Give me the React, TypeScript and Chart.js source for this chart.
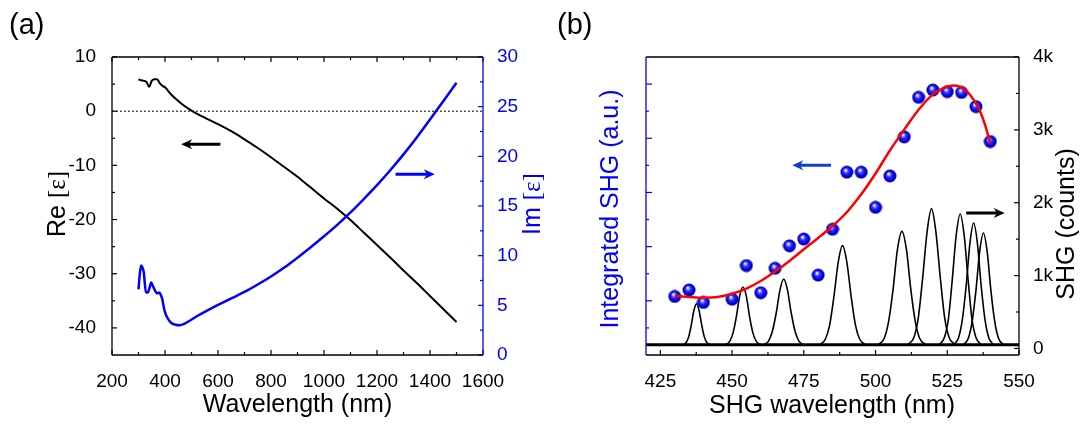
import React, { useEffect, useRef } from 'react';
import { Chart, registerables } from 'chart.js';

Chart.register(...registerables);

const FONT = '"Liberation Sans", Arial, Helvetica, sans-serif';
const SERIF = '"Liberation Serif", "Times New Roman", serif';

// ---------- Panel (a) data ----------
const RE_WL = [300, 310, 320, 330, 340, 350, 360, 370, 380, 390, 400, 425, 450, 475, 500, 525, 550, 600, 650, 700, 750, 800, 850, 900, 950, 1000, 1050, 1100, 1150, 1200, 1250, 1300, 1350, 1400, 1450, 1500];
const RE_EPS = [5.9, 5.7, 5.6, 5.4, 4.5, 5.6, 5.9, 5.9, 5.2, 4.7, 4.4, 3.0, 1.9, 0.9, 0.1, -0.6, -1.2, -2.4, -3.7, -5.2, -6.8, -8.5, -10.3, -12.1, -14.1, -16.1, -18.0, -20.1, -22.4, -24.7, -27.0, -29.4, -31.7, -34.1, -36.5, -38.9];

const IM_WL = [300, 305, 310, 315, 320, 328, 335, 340, 348, 355, 362, 370, 378, 385, 390, 397, 405, 415, 425, 440, 455, 470, 490, 520, 550, 600, 650, 700, 750, 800, 850, 900, 950, 1000, 1050, 1100, 1150, 1200, 1250, 1300, 1350, 1400, 1450, 1500];
const IM_EPS = [6.6, 8.2, 9.0, 8.8, 8.3, 6.3, 6.3, 6.6, 7.3, 6.9, 6.5, 6.2, 6.3, 6.0, 5.6, 4.6, 3.95, 3.5, 3.2, 3.05, 3.0, 3.1, 3.4, 3.9, 4.35, 5.05, 5.7, 6.35, 7.1, 7.9, 8.8, 9.8, 10.85, 11.95, 13.1, 14.35, 15.7, 17.1, 18.6, 20.2, 21.9, 23.7, 25.55, 27.4];

const ZERO_WL = [200, 1600];
const ZERO_EPS = [0, 0];

const A_X_TICKS = [200, 400, 600, 800, 1000, 1200, 1400, 1600];
const A_X_MINOR = [300, 500, 700, 900, 1100, 1300, 1500];
const A_Y_TICKS = [-40, -30, -20, -10, 0, 10];
const A_Y_MINOR = [-35, -25, -15, -5, 5];
const A_Y2_TICKS = [0, 5, 10, 15, 20, 25, 30];
const A_Y2_MINOR = [2.5, 7.5, 12.5, 17.5, 22.5, 27.5];

// arrows: [xFrom, xTo, y]
const A_ARROW_RE = [609, 461, -6.1];
const A_ARROW_IM = [1270, 1418, 18.2];

// ---------- Panel (b) data ----------
const SHG_WL = [430, 435, 440, 450, 455, 460, 465, 470, 475, 480, 485, 490, 495, 500, 505, 510, 515, 520, 525, 530, 535, 540];
const SHG_INT = [2.16, 2.40, 1.94, 2.06, 3.30, 2.30, 3.20, 4.03, 4.28, 2.95, 4.64, 6.75, 6.75, 5.45, 6.61, 8.05, 9.51, 9.78, 9.72, 9.69, 9.17, 7.88];

const FIT_WL = [430, 435, 440, 445, 450, 455, 460, 465, 470, 475, 480, 485, 490, 495, 500, 505, 510, 515, 520, 525, 527.5, 530, 533, 536, 538, 540];
const FIT_INT = [2.18, 2.14, 2.11, 2.14, 2.26, 2.45, 2.73, 3.08, 3.47, 3.90, 4.32, 4.76, 5.27, 5.93, 6.70, 7.55, 8.32, 9.05, 9.62, 9.90, 9.95, 9.87, 9.60, 9.10, 8.55, 7.82];

const PEAK_WL = [
  [432.8, 434.0, 434.9, 435.8, 436.7, 437.6, 438.5, 439.4, 440.3, 441.2, 442.4],
  [447.6, 449.1, 450.3, 451.5, 452.6, 453.8, 455.0, 456.1, 457.3, 458.5, 460.0],
  [461.0, 462.7, 464.0, 465.4, 466.7, 468.0, 469.3, 470.6, 472.0, 473.3, 475.0],
  [480.5, 482.5, 484.0, 485.5, 487.0, 488.5, 490.0, 491.5, 493.0, 494.5, 496.5],
  [500.9, 503.0, 504.5, 506.1, 507.6, 509.2, 510.8, 512.3, 513.9, 515.4, 517.5],
  [511.3, 513.4, 514.9, 516.4, 518.0, 519.5, 521.0, 522.6, 524.1, 525.6, 527.7],
  [522.1, 524.0, 525.4, 526.7, 528.1, 529.5, 530.9, 532.3, 533.6, 535.0, 536.9],
  [527.2, 528.9, 530.2, 531.6, 532.9, 534.2, 535.5, 536.8, 538.2, 539.5, 541.2],
  [530.6, 532.3, 533.6, 535.0, 536.3, 537.6, 538.9, 540.2, 541.6, 542.9, 544.6],
];
const PEAK_COUNTS = [
  [50, 82, 162, 325, 521, 614, 521, 325, 162, 82, 50],
  [50, 94, 207, 436, 712, 843, 712, 436, 207, 94, 50],
  [50, 101, 229, 490, 804, 953, 804, 490, 229, 101, 50],
  [50, 126, 319, 713, 1186, 1411, 1186, 713, 319, 126, 50],
  [50, 137, 358, 808, 1350, 1607, 1350, 808, 358, 137, 50],
  [50, 155, 420, 960, 1611, 1919, 1611, 960, 420, 155, 50],
  [50, 151, 406, 925, 1550, 1846, 1550, 925, 406, 151, 50],
  [50, 144, 381, 864, 1446, 1722, 1446, 864, 381, 144, 50],
  [50, 136, 354, 798, 1332, 1585, 1332, 798, 354, 136, 50],
];
const BASE_WL = [420, 550];
const BASE_COUNTS = [50, 50];

const B_X_TICKS = [425, 450, 475, 500, 525, 550];
const B_X_MINOR = [437.5, 462.5, 487.5, 512.5, 537.5];
const B_Y_TICKS = [2, 4, 6, 8, 10];
const B_Y_MINOR = [1, 3, 5, 7, 9];
const B_Y2_TICKS = [0, 1000, 2000, 3000, 4000];
const B_Y2_LABELS = ['0', '1k', '2k', '3k', '4k'];
const B_Y2_MINOR = [500, 1500, 2500, 3500];

const B_ARROW_INT = [484.5, 471.0, 7.0];
const B_ARROW_SHG = [531.6, 545.0, 1860];

const BLUE = '#0000ff';

const pts = (xs: number[], ys: number[]) => xs.map((x, i) => ({ x, y: ys[i] }));

type Part = { text: string; serif?: boolean };
type TickSpec = { scale: string; side: 'left' | 'right' | 'top' | 'bottom'; major: number[]; minor: number[]; color: string; majorLen?: number; minorLen?: number };
type TitleSpec = { parts: Part[]; x: number; y: number; rot?: boolean; color?: string; size: number; align?: 'left' | 'center' };
type ArrowSpec = { xScale: string; yScale: string; a: number[]; color: string };

function framePlugin(id: string, frame: { left: string; right: string; top: string; bottom: string }, ticks: TickSpec[], arrows: ArrowSpec[], titles: TitleSpec[]) {
  return {
    id,
    afterDraw(chart: any) {
      const ctx: CanvasRenderingContext2D = chart.ctx;
      const ca = chart.chartArea;
      ctx.save();
      for (const t of ticks) {
        const s = chart.scales[t.scale];
        ctx.strokeStyle = t.color;
        ctx.lineWidth = 1.2;
        const draw = (v: number, len: number) => {
          const p = s.getPixelForValue(v);
          ctx.beginPath();
          if (t.side === 'left') { ctx.moveTo(ca.left, p); ctx.lineTo(ca.left + len, p); }
          if (t.side === 'right') { ctx.moveTo(ca.right, p); ctx.lineTo(ca.right - len, p); }
          if (t.side === 'bottom') { ctx.moveTo(p, ca.bottom); ctx.lineTo(p, ca.bottom - len); }
          if (t.side === 'top') { ctx.moveTo(p, ca.top); ctx.lineTo(p, ca.top + len); }
          ctx.stroke();
        };
        t.major.forEach((v) => draw(v, t.majorLen ?? 5));
        t.minor.forEach((v) => draw(v, t.minorLen ?? 3));
      }
      ctx.lineWidth = 1.3;
      const line = (x1: number, y1: number, x2: number, y2: number, c: string) => {
        ctx.strokeStyle = c; ctx.beginPath(); ctx.moveTo(x1, y1); ctx.lineTo(x2, y2); ctx.stroke();
      };
      line(ca.left, ca.top, ca.right, ca.top, frame.top);
      line(ca.left, ca.bottom, ca.right, ca.bottom, frame.bottom);
      line(ca.left, ca.top, ca.left, ca.bottom, frame.left);
      line(ca.right, ca.top, ca.right, ca.bottom, frame.right);
      for (const ar of arrows) {
        const xs = chart.scales[ar.xScale];
        const ys = chart.scales[ar.yScale];
        const x1 = xs.getPixelForValue(ar.a[0]);
        const x2 = xs.getPixelForValue(ar.a[1]);
        const y = ys.getPixelForValue(ar.a[2]);
        const dir = Math.sign(x2 - x1);
        const hl = 11, hh = 5;
        ctx.strokeStyle = ar.color; ctx.fillStyle = ar.color; ctx.lineWidth = 3;
        ctx.beginPath(); ctx.moveTo(x1, y); ctx.lineTo(x2 - dir * hl * 0.6, y); ctx.stroke();
        ctx.beginPath();
        ctx.moveTo(x2, y);
        ctx.lineTo(x2 - dir * hl, y - hh);
        ctx.lineTo(x2 - dir * hl * 0.7, y);
        ctx.lineTo(x2 - dir * hl, y + hh);
        ctx.closePath(); ctx.fill();
      }
      for (const t of titles) {
        ctx.save();
        ctx.fillStyle = t.color ?? '#000';
        ctx.textAlign = 'left';
        ctx.textBaseline = 'alphabetic';
        ctx.translate(t.x, t.y);
        if (t.rot) ctx.rotate(-Math.PI / 2);
        const fontOf = (p: Part) => `${t.size}px ${p.serif ? SERIF : FONT}`;
        let total = 0;
        for (const p of t.parts) { ctx.font = fontOf(p); total += ctx.measureText(p.text).width; }
        let cx = t.align === 'left' ? 0 : -total / 2;
        for (const p of t.parts) {
          ctx.font = fontOf(p);
          ctx.fillText(p.text, cx, 0);
          cx += ctx.measureText(p.text).width;
        }
        ctx.restore();
      }
      ctx.restore();
    },
  };
}

function makeSphere(): HTMLCanvasElement {
  const c = document.createElement('canvas');
  c.width = 14; c.height = 14;
  const g = c.getContext('2d')!;
  const grad = g.createRadialGradient(5.6, 4.8, 0.2, 7, 7, 6.6);
  grad.addColorStop(0, '#ffffff');
  grad.addColorStop(0.14, '#c4c4ff');
  grad.addColorStop(0.38, '#3030ff');
  grad.addColorStop(0.75, '#0000e0');
  grad.addColorStop(1, '#000090');
  g.fillStyle = grad;
  g.beginPath(); g.arc(7, 7, 6.5, 0, Math.PI * 2); g.fill();
  return c;
}

const tickFont = { family: FONT, size: 19 };
const plainLabel = (v: any) => String(v);

function fixedTicks(values: number[]) {
  return (axis: any) => { axis.ticks = values.map((v) => ({ value: v })); };
}

export default function App() {
  const refA = useRef<HTMLCanvasElement>(null);
  const refB = useRef<HTMLCanvasElement>(null);

  useEffect(() => {
    const chartA = new Chart(refA.current!, {
      type: 'line',
      data: {
        datasets: [
          { data: pts(IM_WL, IM_EPS), yAxisID: 'y2', borderColor: BLUE, borderWidth: 2.5, pointRadius: 0, cubicInterpolationMode: 'monotone' },
          { data: pts(RE_WL, RE_EPS), yAxisID: 'y', borderColor: '#000', borderWidth: 2, pointRadius: 0, cubicInterpolationMode: 'monotone' },
          { data: pts(ZERO_WL, ZERO_EPS), yAxisID: 'y', borderColor: '#000', borderWidth: 1, borderDash: [2, 2], pointRadius: 0 },
        ],
      },
      options: {
        responsive: false,
        animation: false,
        devicePixelRatio: 1,
        layout: { padding: { top: 57, left: 0, right: 0, bottom: 0 } },
        plugins: { legend: { display: false }, tooltip: { enabled: false } },
        scales: {
          x: {
            type: 'linear', min: 200, max: 1600, position: 'bottom',
            grid: { display: false }, border: { display: false },
            ticks: { font: tickFont, color: '#000', padding: 7, maxRotation: 0, autoSkip: false, callback: plainLabel },
            afterBuildTicks: fixedTicks(A_X_TICKS),
            afterFit: (s: any) => { s.height = 73; },
          },
          y: {
            type: 'linear', min: -45, max: 10, position: 'left',
            grid: { display: false }, border: { display: false },
            ticks: { font: tickFont, color: '#000', padding: 8, callback: plainLabel },
            afterBuildTicks: fixedTicks(A_Y_TICKS),
            afterFit: (s: any) => { s.width = 112; },
          },
          y2: {
            type: 'linear', min: 0, max: 30, position: 'right',
            grid: { display: false }, border: { display: false },
            ticks: { font: tickFont, color: BLUE, padding: 6, callback: plainLabel },
            afterBuildTicks: fixedTicks(A_Y2_TICKS),
            afterFit: (s: any) => { s.width = 87; },
          },
        },
      } as any,
      plugins: [framePlugin('frameA',
        { left: '#000', right: BLUE, top: '#000', bottom: '#000' },
        [
          { scale: 'x', side: 'bottom', major: A_X_TICKS, minor: A_X_MINOR, color: '#000' },
          { scale: 'x', side: 'top', major: A_X_TICKS, minor: A_X_MINOR, color: '#000' },
          { scale: 'y', side: 'left', major: A_Y_TICKS, minor: A_Y_MINOR, color: '#000' },
          { scale: 'y2', side: 'right', major: A_Y2_TICKS, minor: A_Y2_MINOR, color: BLUE },
        ],
        [
          { xScale: 'x', yScale: 'y', a: A_ARROW_RE, color: '#000' },
          { xScale: 'x', yScale: 'y2', a: A_ARROW_IM, color: BLUE },
        ],
        [
          { parts: [{ text: '(a)' }], x: 9, y: 34, size: 29, align: 'left' },
          { parts: [{ text: 'Re ' }, { text: '[ε]', serif: true }], x: 65, y: 204, size: 25, rot: true },
          { parts: [{ text: 'Im ' }, { text: '[ε]', serif: true }], x: 540, y: 204, size: 25, rot: true, color: BLUE },
          { parts: [{ text: 'Wavelength (nm)' }], x: 297.5, y: 412, size: 25 },
        ]) as any],
    });

    const sphere = makeSphere();
    const chartB = new Chart(refB.current!, {
      type: 'line',
      data: {
        datasets: [
          { data: pts(FIT_WL, FIT_INT), yAxisID: 'y', borderColor: '#ff0000', borderWidth: 2.5, pointRadius: 0, cubicInterpolationMode: 'monotone' },
          { data: pts(SHG_WL, SHG_INT), yAxisID: 'y', showLine: false, pointStyle: sphere, pointRadius: 6, borderWidth: 0 },
          ...PEAK_WL.map((xs, i) => ({ data: pts(xs, PEAK_COUNTS[i]), yAxisID: 'y2', borderColor: '#000', borderWidth: 1.6, pointRadius: 0, cubicInterpolationMode: 'monotone' })),
          { data: pts(BASE_WL, BASE_COUNTS), yAxisID: 'y2', borderColor: '#000', borderWidth: 3, pointRadius: 0 },
        ],
      },
      options: {
        responsive: false,
        animation: false,
        devicePixelRatio: 1,
        layout: { padding: { top: 57, left: 0, right: 0, bottom: 0 } },
        plugins: { legend: { display: false }, tooltip: { enabled: false } },
        scales: {
          x: {
            type: 'linear', min: 420, max: 550, position: 'bottom',
            grid: { display: false }, border: { display: false },
            ticks: { font: tickFont, color: '#000', padding: 7, maxRotation: 0, autoSkip: false, callback: plainLabel },
            afterBuildTicks: fixedTicks(B_X_TICKS),
            afterFit: (s: any) => { s.height = 73; },
          },
          y: {
            type: 'linear', min: 0, max: 11, position: 'left',
            grid: { display: false }, border: { display: false },
            ticks: { display: false },
            afterBuildTicks: fixedTicks(B_Y_TICKS),
            afterFit: (s: any) => { s.width = 101; },
          },
          y2: {
            type: 'linear', min: -90, max: 4000, position: 'right',
            grid: { display: false }, border: { display: false },
            ticks: {
              font: tickFont, color: '#000', padding: 6,
              callback: (v: any) => B_Y2_LABELS[B_Y2_TICKS.indexOf(Number(v))] ?? '',
            },
            afterBuildTicks: fixedTicks(B_Y2_TICKS),
            afterFit: (s: any) => { s.width = 66; },
          },
        },
      } as any,
      plugins: [framePlugin('frameB',
        { left: BLUE, right: '#000', top: '#000', bottom: '#000' },
        [
          { scale: 'x', side: 'bottom', major: B_X_TICKS, minor: B_X_MINOR, color: '#000' },
          { scale: 'y', side: 'left', major: B_Y_TICKS, minor: B_Y_MINOR, color: BLUE, majorLen: 6 },
          { scale: 'y2', side: 'right', major: B_Y2_TICKS, minor: B_Y2_MINOR, color: '#000' },
        ],
        [
          { xScale: 'x', yScale: 'y', a: B_ARROW_INT, color: '#0f3fd0' },
          { xScale: 'x', yScale: 'y2', a: B_ARROW_SHG, color: '#000' },
        ],
        [
          { parts: [{ text: '(b)' }], x: 12, y: 34, size: 29, align: 'left' },
          { parts: [{ text: 'Integrated SHG (a.u.)' }], x: 73, y: 209, size: 25, rot: true, color: BLUE },
          { parts: [{ text: 'SHG (counts)' }], x: 529, y: 224, size: 25, rot: true },
          { parts: [{ text: 'SHG wavelength (nm)' }], x: 287, y: 412.5, size: 25 },
        ]) as any],
    });

    return () => { chartA.destroy(); chartB.destroy(); };
  }, []);

  return (
    <div style={{ position: 'fixed', left: 0, top: 0, width: 1085, height: 428, background: '#fff', overflow: 'hidden' }}>
      <canvas ref={refA} width={570} height={428} style={{ position: 'absolute', left: 0, top: 0 }} />
      <canvas ref={refB} width={540} height={428} style={{ position: 'absolute', left: 545, top: 0 }} />
    </div>
  );
}
